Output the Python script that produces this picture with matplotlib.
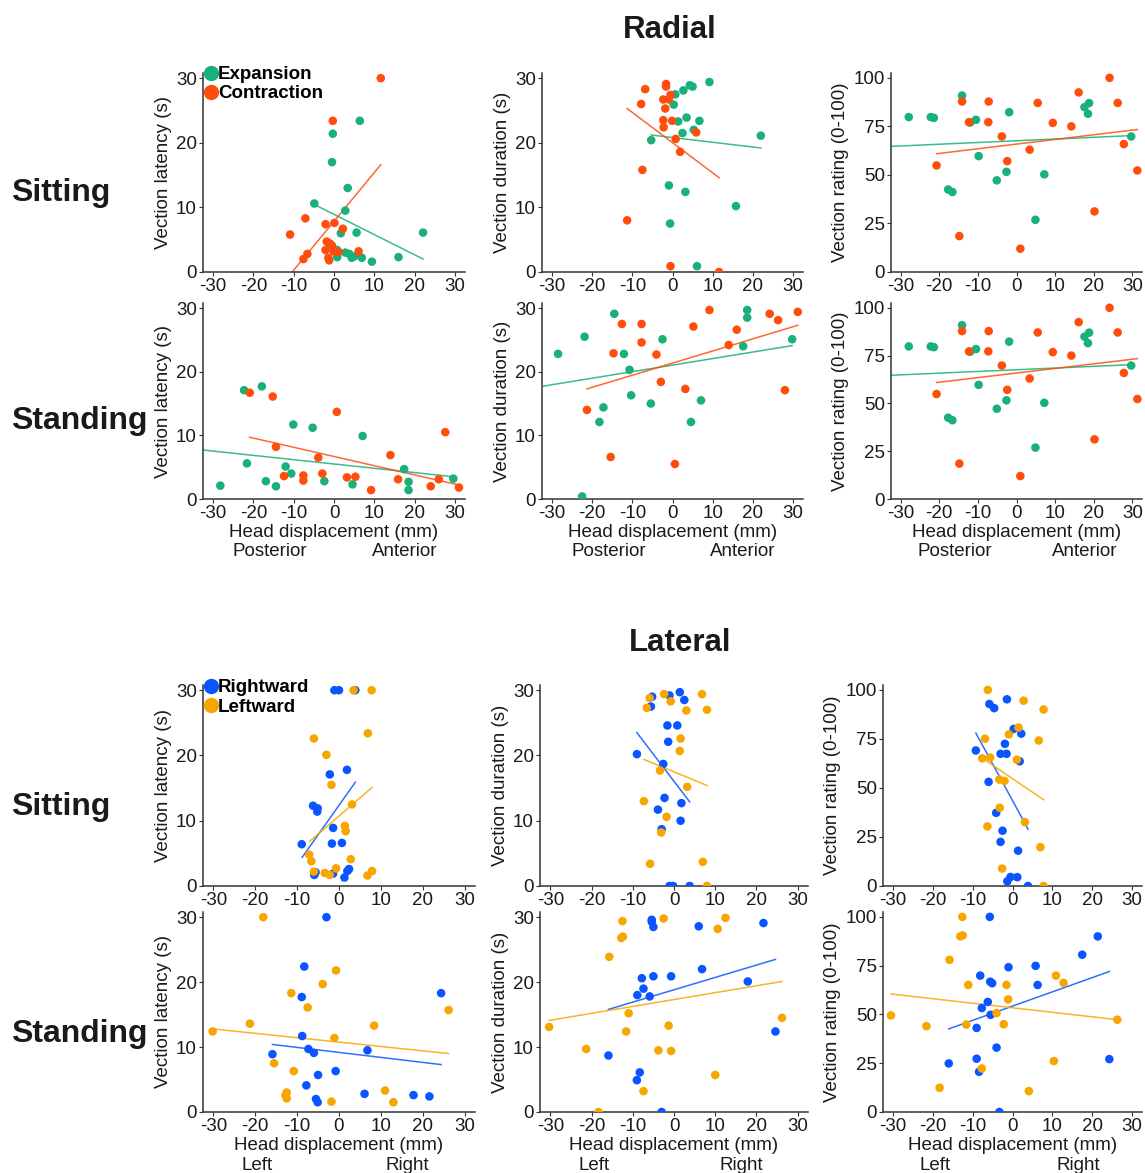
import matplotlib
matplotlib.use("Agg")
import matplotlib.pyplot as plt
from matplotlib.lines import Line2D
from matplotlib.transforms import blended_transform_factory

GREEN = "#19b07a"
ORANGE = "#ff4d0d"
BLUE = "#0a55ff"
AMBER = "#f7a600"
INK = "#1a1a1a"
SPINE = "#333333"

W, H = 1145, 1173

# ---- shared axis values -------------------------------------------------
X_TICKS = [-30, -20, -10, 0, 10, 20, 30]
SEC_TICKS = [0, 10, 20, 30]
RATING_TICKS = [0, 25, 50, 75, 100]

# ---- Radial, sitting ----------------------------------------------------
rs_lat_exp_x = [-4.9, -0.3, 6.4, -0.5, 3.4, 2.8, 1.7, 5.6, 22.1, 0.8, 0.8, 2.8, 3.8, 4.4, 5.0, 6.9, 9.4, 16.0]
rs_lat_exp_y = [10.6, 21.4, 23.4, 17.0, 13.0, 9.5, 6.0, 6.1, 6.1, 3.4, 2.3, 3.0, 2.8, 2.2, 2.4, 2.2, 1.6, 2.3]
rs_lat_con_x = [11.6, -0.3, -7.1, -10.9, -2.1, 0.1, 2.2, -1.8, -1.0, -0.5, -2.1, -0.1, 1.1, 6.1, -1.4, -1.2, -6.6, -7.6]
rs_lat_con_y = [30.0, 23.4, 8.3, 5.8, 7.4, 7.6, 6.7, 4.7, 4.4, 4.1, 3.4, 3.2, 3.1, 3.2, 2.2, 1.8, 2.8, 2.0]
rs_lat_exp_fit = ([-4.4, 22.1], [10.3, 2.0])
rs_lat_con_fit = ([-10.9, 11.6], [-0.4, 16.6])

rs_dur_exp_x = [9.2, 4.3, 5.0, 2.7, 0.7, 0.3, 1.4, 3.5, 6.7, 5.3, 2.5, -5.3, 22.0, -0.9, 3.2, 15.8, -0.6, 6.1]
rs_dur_exp_y = [29.4, 28.9, 28.7, 28.1, 27.5, 25.9, 23.3, 23.9, 23.4, 22.0, 21.5, 20.4, 21.1, 13.4, 12.4, 10.2, 7.5, 0.9]
rs_dur_con_x = [-1.6, -1.6, -6.8, -0.5, -2.3, -0.9, -7.8, -1.8, -2.3, -0.1, -2.2, 5.9, 0.8, 1.9, -7.5, -11.3, -0.5, 11.6]
rs_dur_con_y = [29.1, 28.7, 28.3, 27.4, 26.7, 26.7, 26.0, 25.3, 23.5, 23.4, 22.4, 21.6, 20.6, 18.6, 15.8, 8.0, 0.9, 0.0]
rs_dur_exp_fit = ([-5.3, 22.0], [21.2, 19.2])
rs_dur_con_fit = ([-11.3, 11.6], [25.3, 14.6])

# radial rating panel is the same in both postures
r_rat_exp_x = [-27.9, -22.2, -21.4, -14.1, -12.0, -10.5, -1.9, -9.8, -17.7, -16.6, -5.1, -2.6, 4.9, 7.2, 17.6, 18.8, 18.5, 29.7]
r_rat_exp_y = [79.8, 79.8, 79.4, 90.9, 77.0, 78.4, 82.3, 59.7, 42.5, 41.2, 47.2, 51.6, 26.9, 50.3, 84.9, 87.0, 81.5, 69.8]
r_rat_con_x = [-20.7, -14.1, -12.3, -7.2, -7.3, -3.8, -2.4, -14.8, 1.0, 3.4, 5.5, 9.4, 14.2, 16.1, 20.2, 24.1, 26.2, 27.8, 31.3]
r_rat_con_y = [54.9, 87.8, 77.2, 87.8, 77.2, 69.8, 57.1, 18.5, 12.0, 63.0, 87.1, 76.8, 75.0, 92.5, 31.2, 100.0, 87.1, 65.9, 52.3]
r_rat_exp_fit = ([-32.5, 30.3], [64.7, 70.3])
r_rat_con_fit = ([-20.7, 31.3], [60.9, 73.4])

# ---- Radial, standing ---------------------------------------------------
rst_lat_exp_x = [-28.2, -22.3, -17.9, -21.6, -16.9, -14.4, -12.0, -10.6, -10.1, -5.3, -2.4, 7.1, 4.6, 17.4, 18.5, 18.5, 29.6]
rst_lat_exp_y = [2.1, 17.1, 17.7, 5.6, 2.8, 2.0, 5.1, 4.0, 11.7, 11.2, 2.8, 9.9, 2.3, 4.7, 2.7, 1.4, 3.2]
rst_lat_con_x = [-20.9, -15.2, -14.4, -12.4, -7.6, -7.6, -3.9, -2.9, 0.7, 3.2, 5.3, 9.2, 14.0, 15.9, 24.0, 26.0, 27.6, 31.0]
rst_lat_con_y = [16.7, 16.1, 8.2, 3.6, 3.7, 2.9, 6.5, 4.0, 13.7, 3.4, 3.5, 1.4, 6.9, 3.1, 2.0, 3.1, 10.5, 1.8]
rst_lat_exp_fit = ([-32.5, 29.6], [7.7, 3.5])
rst_lat_con_fit = ([-20.9, 31.0], [9.7, 2.2])

rst_dur_exp_x = [-28.5, -21.9, -22.5, -14.5, -12.1, -10.7, -10.3, -17.2, -18.2, -5.4, -2.5, 4.6, 7.1, 17.6, 18.6, 18.6, 29.8]
rst_dur_exp_y = [22.8, 25.5, 0.4, 29.1, 22.8, 20.3, 16.3, 14.4, 12.1, 15.0, 25.1, 12.1, 15.5, 24.0, 29.7, 28.5, 25.1]
rst_dur_con_x = [-21.3, -15.4, -14.7, -12.6, -7.7, -7.7, -4.0, -2.9, 0.6, 3.2, 5.2, 9.2, 14.0, 16.0, 24.2, 26.3, 28.0, 31.2]
rst_dur_con_y = [14.0, 6.6, 22.9, 27.5, 27.5, 24.6, 22.7, 18.4, 5.5, 17.3, 27.1, 29.7, 24.2, 26.6, 29.1, 28.1, 17.1, 29.4]
rst_dur_exp_fit = ([-32.5, 29.8], [17.7, 24.1])
rst_dur_con_fit = ([-21.3, 31.2], [17.3, 27.3])

# ---- Lateral, sitting ---------------------------------------------------
ls_lat_r_x = [-1.1, 0.0, 3.9, -8.9, -6.2, -5.1, -5.2, -2.2, 1.9, -1.4, -1.7, 0.7, -5.6, -5.9, -1.4, 1.3, 2.0, 2.4]
ls_lat_r_y = [30.0, 30.0, 30.0, 6.4, 12.3, 11.9, 11.4, 17.1, 17.8, 8.9, 6.5, 6.6, 2.1, 1.7, 1.9, 1.3, 2.3, 2.6]
ls_lat_l_x = [3.5, 7.8, -6.0, 6.9, -3.0, -1.8, 3.1, 1.4, 1.6, -7.1, -6.6, -6.0, -3.4, -2.2, -0.7, 2.8, 6.8, 7.9]
ls_lat_l_y = [30.0, 30.0, 22.6, 23.4, 20.1, 15.5, 12.5, 9.2, 8.4, 4.8, 3.8, 2.2, 2.0, 1.7, 2.7, 4.1, 1.6, 2.3]
ls_lat_r_fit = ([-8.8, 3.9], [4.4, 15.9])
ls_lat_l_fit = ([-7.1, 7.9], [6.8, 15.1])

ls_dur_r_x = [-5.3, -5.6, -1.1, 1.4, 2.5, -1.6, 0.8, -1.4, -9.0, -2.6, -2.3, 1.8, -3.9, 1.6, -3.0, -1.1, -0.2, 3.8]
ls_dur_r_y = [29.0, 27.5, 29.2, 29.7, 28.5, 24.6, 24.6, 22.1, 20.2, 18.7, 13.5, 12.7, 11.7, 10.0, 8.7, 0.0, 0.0, 0.0]
ls_dur_l_x = [-5.9, -6.6, -2.4, -0.8, 6.8, 3.0, 8.0, 1.6, 1.4, -3.4, 3.2, -7.3, -1.8, -3.1, -5.8, 7.0, 8.0]
ls_dur_l_y = [28.8, 27.3, 29.4, 28.3, 29.4, 26.9, 27.0, 22.6, 20.7, 17.7, 15.2, 13.0, 10.6, 8.2, 3.4, 3.7, 0.0]
ls_dur_r_fit = ([-9.0, 3.8], [23.5, 12.9])
ls_dur_l_fit = ([-7.3, 8.0], [19.4, 15.4])

ls_rat_r_x = [-1.4, -5.8, -4.6, 0.3, 2.2, -1.9, -3.0, -1.5, -9.2, 1.8, -6.0, -4.1, -2.5, -3.0, 1.4, -0.5, -1.3, 1.2, 3.9]
ls_rat_r_y = [95.2, 92.8, 90.7, 80.1, 77.7, 72.5, 67.4, 67.4, 69.1, 63.6, 53.1, 37.3, 28.2, 22.5, 18.0, 4.6, 2.4, 4.5, 0.0]
ls_rat_l_x = [-6.2, 2.8, 7.8, 1.5, -0.9, -6.9, 6.6, -7.6, -5.6, 1.1, -3.3, -2.0, -3.2, 3.1, -6.3, 7.0, -2.6, 7.8]
ls_rat_l_y = [100.0, 94.5, 90.0, 80.8, 77.3, 75.1, 74.2, 65.1, 65.5, 64.4, 54.3, 53.6, 39.9, 32.6, 30.4, 19.8, 8.9, 0.0]
ls_rat_r_fit = ([-9.2, 3.9], [78.0, 29.0])
ls_rat_l_fit = ([-7.6, 7.8], [65.2, 44.0])

# ---- Lateral, standing --------------------------------------------------
lst_lat_r_x = [-3.0, -8.3, -8.9, -8.8, -15.9, -7.3, -6.0, 6.8, -5.0, -0.8, -7.8, -5.5, -5.1, 6.1, 17.8, 21.6, 24.4]
lst_lat_r_y = [30.0, 22.4, 17.7, 11.7, 8.9, 9.7, 9.1, 9.5, 5.7, 6.3, 4.1, 2.0, 1.5, 2.8, 2.6, 2.4, 18.3]
lst_lat_l_x = [-18.1, -0.7, -3.9, -11.4, -7.5, -21.3, -30.2, 8.4, -1.1, -15.5, -10.8, -12.5, -12.5, -12.8, -1.8, 11.0, 13.0, 26.2]
lst_lat_l_y = [30.0, 21.8, 19.7, 18.3, 16.1, 13.6, 12.4, 13.3, 11.4, 7.5, 6.3, 3.0, 2.1, 2.6, 1.6, 3.3, 1.5, 15.7]
lst_lat_r_fit = ([-15.9, 24.4], [10.4, 7.3])
lst_lat_l_fit = ([-30.2, 26.2], [12.8, 9.0])

lst_dur_r_x = [-5.4, -5.4, -5.0, 6.0, 21.7, 6.8, -5.0, -0.7, -7.8, -7.4, -8.9, -5.9, 17.9, -15.9, -8.3, -9.0, -3.0, 24.6]
lst_dur_r_y = [29.6, 29.3, 28.5, 28.6, 29.1, 22.0, 20.9, 20.9, 20.6, 19.0, 18.0, 17.8, 20.1, 8.7, 6.1, 4.9, 0.0, 12.4]
lst_dur_l_x = [-2.5, 12.5, -12.5, 10.6, -12.4, -12.8, -15.7, -11.0, -11.6, -1.3, -30.3, -21.3, -3.8, -0.7, -7.4, 10.0, 26.2, -18.3]
lst_dur_l_y = [29.8, 29.9, 29.4, 28.2, 27.0, 26.8, 23.9, 15.2, 12.4, 13.3, 13.1, 9.7, 9.5, 9.4, 3.2, 5.7, 14.5, 0.0]
lst_dur_r_fit = ([-15.9, 24.6], [15.8, 23.5])
lst_dur_l_fit = ([-30.3, 26.2], [14.1, 20.1])

lst_rat_r_x = [-5.7, 21.4, 17.5, 5.8, -1.0, -8.1, -5.6, -5.1, 6.3, -6.2, -7.7, -5.5, -9.0, -4.0, -9.0, -16.0, -8.4, 24.3, -3.3]
lst_rat_r_y = [100.0, 90.0, 80.6, 74.9, 74.2, 69.9, 66.8, 66.0, 65.1, 56.4, 53.3, 49.8, 43.1, 33.0, 27.3, 24.9, 20.6, 27.1, 0.0]
lst_rat_l_x = [-12.6, -13.1, -12.5, -15.8, -11.1, -1.5, 10.9, 12.8, -1.1, -4.0, -30.5, -21.6, -11.6, -2.2, 26.3, -7.7, 10.4, -18.3, 4.1]
lst_rat_l_y = [100.0, 90.0, 90.5, 78.0, 65.1, 65.1, 69.9, 66.2, 57.7, 50.7, 49.5, 44.0, 44.8, 45.0, 47.3, 22.3, 26.1, 12.4, 10.7]
lst_rat_r_fit = ([-16.0, 24.3], [42.6, 72.0])
lst_rat_l_fit = ([-30.5, 26.3], [60.5, 47.3])


plt.rcParams.update({
    "font.family": ["Liberation Sans", "DejaVu Sans"],
    "axes.unicode_minus": False,
    "axes.linewidth": 1.1,
    "axes.edgecolor": SPINE,
    "axes.spines.top": False,
    "axes.spines.right": False,
    "xtick.color": SPINE,
    "ytick.color": SPINE,
    "xtick.labelcolor": INK,
    "ytick.labelcolor": INK,
    "xtick.labelsize": 13.5,
    "ytick.labelsize": 13.5,
    "xtick.major.size": 3,
    "ytick.major.size": 3,
    "xtick.major.pad": 1.5,
    "ytick.major.pad": 1.5,
})

fig = plt.figure(figsize=(W / 100, H / 100), dpi=100)


def px_axes(left, right, top, bottom):
    return fig.add_axes([left / W, 1 - bottom / H, (right - left) / W, (bottom - top) / H])


def panel(ax, series, rating, ylabel):
    for xs, ys, fit, color in series:
        ax.plot(fit[0], fit[1], color=color, lw=1.1, alpha=0.85, zorder=2)
        ax.scatter(xs, ys, s=38, color=color, edgecolors="none", zorder=3)
    ax.set_xlim(-32.5, 32.5)
    if rating:
        ax.set_ylim(0, 102.5)
        ax.set_yticks(RATING_TICKS)
    else:
        ax.set_ylim(0, 30.8)
        ax.set_yticks(SEC_TICKS)
    ax.set_xticks(X_TICKS)
    ax.set_ylabel(ylabel, fontsize=13.5, color=INK, labelpad=3)


def bottom_labels(ax, low, high, low_x, high_x):
    ax.text(0.5, -0.17, "Head displacement (mm)", transform=ax.transAxes,
            ha="center", va="center", fontsize=13.5, color=INK)
    tr = blended_transform_factory(ax.transData, ax.transAxes)
    ax.text(low_x, -0.27, low, transform=tr, ha="center", va="center",
            fontsize=13.5, color=INK)
    ax.text(high_x, -0.27, high, transform=tr, ha="center", va="center",
            fontsize=13.5, color=INK)


RAD_COLS = [(203, 465), (542, 803), (891, 1142)]
LAT_COLS = [(203, 475), (540, 808), (883, 1142)]
ROWS = [(73, 272), (303, 499), (685, 886), (912, 1112)]

LAB_LAT = "Vection latency (s)"
LAB_DUR = "Vection duration (s)"
LAB_RAT = "Vection rating (0-100)"

# radial sitting
ax = px_axes(*RAD_COLS[0], *ROWS[0])
panel(ax, [(rs_lat_exp_x, rs_lat_exp_y, rs_lat_exp_fit, GREEN),
           (rs_lat_con_x, rs_lat_con_y, rs_lat_con_fit, ORANGE)], False, LAB_LAT)
ax = px_axes(*RAD_COLS[1], *ROWS[0])
panel(ax, [(rs_dur_exp_x, rs_dur_exp_y, rs_dur_exp_fit, GREEN),
           (rs_dur_con_x, rs_dur_con_y, rs_dur_con_fit, ORANGE)], False, LAB_DUR)
ax = px_axes(*RAD_COLS[2], *ROWS[0])
panel(ax, [(r_rat_exp_x, r_rat_exp_y, r_rat_exp_fit, GREEN),
           (r_rat_con_x, r_rat_con_y, r_rat_con_fit, ORANGE)], True, LAB_RAT)

# radial standing
ax = px_axes(*RAD_COLS[0], *ROWS[1])
panel(ax, [(rst_lat_exp_x, rst_lat_exp_y, rst_lat_exp_fit, GREEN),
           (rst_lat_con_x, rst_lat_con_y, rst_lat_con_fit, ORANGE)], False, LAB_LAT)
bottom_labels(ax, "Posterior", "Anterior", -15.9, 17.6)
ax = px_axes(*RAD_COLS[1], *ROWS[1])
panel(ax, [(rst_dur_exp_x, rst_dur_exp_y, rst_dur_exp_fit, GREEN),
           (rst_dur_con_x, rst_dur_con_y, rst_dur_con_fit, ORANGE)], False, LAB_DUR)
bottom_labels(ax, "Posterior", "Anterior", -15.9, 17.6)
ax = px_axes(*RAD_COLS[2], *ROWS[1])
panel(ax, [(r_rat_exp_x, r_rat_exp_y, r_rat_exp_fit, GREEN),
           (r_rat_con_x, r_rat_con_y, r_rat_con_fit, ORANGE)], True, LAB_RAT)
bottom_labels(ax, "Posterior", "Anterior", -15.9, 17.6)

# lateral sitting
ax = px_axes(*LAT_COLS[0], *ROWS[2])
panel(ax, [(ls_lat_r_x, ls_lat_r_y, ls_lat_r_fit, BLUE),
           (ls_lat_l_x, ls_lat_l_y, ls_lat_l_fit, AMBER)], False, LAB_LAT)
ax = px_axes(*LAT_COLS[1], *ROWS[2])
panel(ax, [(ls_dur_r_x, ls_dur_r_y, ls_dur_r_fit, BLUE),
           (ls_dur_l_x, ls_dur_l_y, ls_dur_l_fit, AMBER)], False, LAB_DUR)
ax = px_axes(*LAT_COLS[2], *ROWS[2])
panel(ax, [(ls_rat_r_x, ls_rat_r_y, ls_rat_r_fit, BLUE),
           (ls_rat_l_x, ls_rat_l_y, ls_rat_l_fit, AMBER)], True, LAB_RAT)

# lateral standing
ax = px_axes(*LAT_COLS[0], *ROWS[3])
panel(ax, [(lst_lat_r_x, lst_lat_r_y, lst_lat_r_fit, BLUE),
           (lst_lat_l_x, lst_lat_l_y, lst_lat_l_fit, AMBER)], False, LAB_LAT)
bottom_labels(ax, "Left", "Right", -19.5, 16.4)
ax = px_axes(*LAT_COLS[1], *ROWS[3])
panel(ax, [(lst_dur_r_x, lst_dur_r_y, lst_dur_r_fit, BLUE),
           (lst_dur_l_x, lst_dur_l_y, lst_dur_l_fit, AMBER)], False, LAB_DUR)
bottom_labels(ax, "Left", "Right", -19.5, 16.4)
ax = px_axes(*LAT_COLS[2], *ROWS[3])
panel(ax, [(lst_rat_r_x, lst_rat_r_y, lst_rat_r_fit, BLUE),
           (lst_rat_l_x, lst_rat_l_y, lst_rat_l_fit, AMBER)], True, LAB_RAT)
bottom_labels(ax, "Left", "Right", -19.5, 16.4)

# headings
def fig_text(x, y, s, size, ha="center"):
    fig.text(x / W, 1 - y / H, s, ha=ha, va="center", fontsize=size,
             fontweight="bold", color=INK)

fig_text(670, 30, "Radial", 22.5)
fig_text(680, 643, "Lateral", 22.5)
fig_text(11, 193, "Sitting", 23, ha="left")
fig_text(11, 421, "Standing", 23, ha="left")
fig_text(11, 807, "Sitting", 23, ha="left")
fig_text(11, 1034, "Standing", 23, ha="left")


def legend(top, entries):
    handles = [Line2D([], [], marker="o", ls="", color=c, markersize=10)
               for _, c in entries]
    fig.legend(handles, [n for n, _ in entries], loc="upper left",
               bbox_to_anchor=(205 / W, 1 - top / H), frameon=False,
               borderpad=0, borderaxespad=0, handlelength=0.6,
               handletextpad=0.1, labelspacing=0.12,
               prop={"weight": "bold", "size": 13.5})

legend(66, [("Expansion", GREEN), ("Contraction", ORANGE)])
legend(679, [("Rightward", BLUE), ("Leftward", AMBER)])

fig.savefig("out.png", dpi=100)
